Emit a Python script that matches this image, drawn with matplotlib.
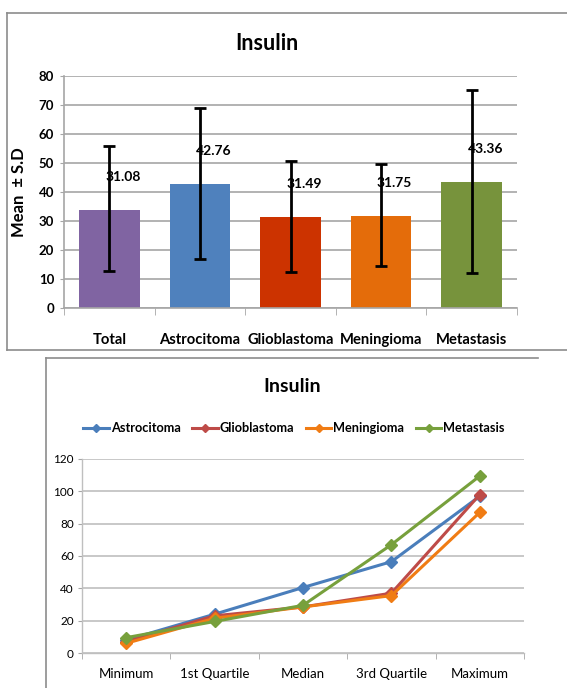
import matplotlib.pyplot as plt
from matplotlib.lines import Line2D

plt.rcParams["font.family"] = ["Lato", "DejaVu Sans"]

# top panel: mean +/- SD
GROUPS = ["Total", "Astrocitoma", "Glioblastoma", "Meningioma", "Metastasis"]
MEANS = [33.8, 42.8, 31.4, 31.7, 43.4]
MEAN_LABELS = ["31.08", "42.76", "31.49", "31.75", "43.36"]
ERR_LOW = [12.9, 17.0, 12.4, 14.5, 12.0]
ERR_HIGH = [55.8, 69.0, 50.7, 49.5, 75.2]
BAR_COLORS = ["#8064A2", "#4F81BD", "#CC3300", "#E46C0A", "#77933C"]

# bottom panel: quartiles
STATS = ["Minimum", "1st Quartile", "Median", "3rd Quartile", "Maximum"]
SERIES = ["Astrocitoma", "Glioblastoma", "Meningioma", "Metastasis"]
ASTRO = [8.0, 24.0, 40.5, 56.5, 97.0]
GLIO = [7.0, 23.0, 28.5, 37.0, 98.0]
MENIN = [6.0, 21.5, 28.5, 35.5, 87.0]
METAS = [9.5, 19.5, 29.5, 67.0, 109.5]
LINE_COLORS = ["#4A7EBB", "#BE4B48", "#F07C14", "#77A03C"]

W, H = 567, 688
GRID = "#a6a6a6"


def fx(px):
    return px / W


def fy(py):
    return 1 - py / H


fig = plt.figure(figsize=(W / 100, H / 100), dpi=100)

# chart frames
frame = dict(color="#8c8c8c", linewidth=1.2, transform=fig.transFigure)
fig.add_artist(Line2D([fx(7), fx(7)], [fy(13), fy(350)], **frame))
fig.add_artist(Line2D([fx(7), fx(567)], [fy(13), fy(13)], **frame))
fig.add_artist(Line2D([fx(7), fx(567)], [fy(350), fy(350)], **frame))
fig.add_artist(Line2D([fx(46), fx(46)], [fy(358), fy(688)], **frame))
fig.add_artist(Line2D([fx(46), fx(538)], [fy(358), fy(358)], **frame))

# ---- top: bar chart
ax = fig.add_axes([fx(64), fy(308), fx(517 - 64), fy(76) - fy(308)])
x = list(range(len(GROUPS)))
ax.bar(x, MEANS, width=0.67, color=BAR_COLORS, zorder=2)
yerr = [[m - lo for m, lo in zip(MEANS, ERR_LOW)], [hi - m for m, hi in zip(MEANS, ERR_HIGH)]]
ax.errorbar(x, MEANS, yerr=yerr, fmt="none", ecolor="black", elinewidth=2,
            capsize=4, capthick=2, zorder=3)
for xi, m, lab in zip(x, MEANS, MEAN_LABELS):
    ax.annotate(lab, (xi, m + 11.5), xytext=(-3, 0), textcoords="offset points",
                ha="left", va="center", fontsize=10, fontweight="bold", zorder=4)

ax.set_xlim(-0.5, len(GROUPS) - 0.5)
ax.set_ylim(0, 80)
ax.set_yticks(range(0, 81, 10))
ax.set_xticks(x)
ax.set_xticklabels(GROUPS, fontsize=10.6, fontweight="bold")
ax.set_xticks([i - 0.5 for i in range(len(GROUPS) + 1)], minor=True)
ax.tick_params(axis="x", which="major", length=0, pad=18)
ax.tick_params(axis="x", which="minor", length=5, color=GRID, direction="out")
ax.tick_params(axis="y", length=3, color=GRID, labelsize=9.5, pad=4)
for t in ax.get_yticklabels():
    t.set_fontweight("bold")
ax.grid(axis="y", color=GRID, linewidth=1.2, zorder=0)
ax.set_axisbelow(True)
ax.spines[["top", "right"]].set_visible(False)
ax.spines[["left", "bottom"]].set_color(GRID)
ax.spines[["left", "bottom"]].set_linewidth(1.2)
ax.set_ylabel("Mean  \u00b1 S.D", fontsize=12, fontweight="bold")
ax.yaxis.set_label_coords(-0.082, 0.5)
fig.text(fx(267), fy(44), "Insulin", ha="center", va="center", fontsize=15.5, fontweight="bold")

# ---- bottom: line chart
ax2 = fig.add_axes([fx(82), fy(653), fx(524 - 82), fy(459) - fy(653)])
for name, vals, col in zip(SERIES, [ASTRO, GLIO, MENIN, METAS], LINE_COLORS):
    ax2.plot(range(len(STATS)), vals, color=col, linewidth=2.2, marker="D",
             markersize=6.5, label=name, zorder=3)

ax2.set_xlim(-0.5, len(STATS) - 0.5)
ax2.set_ylim(0, 120)
ax2.set_yticks(range(0, 121, 20))
ax2.set_xticks(range(len(STATS)))
ax2.set_xticklabels(STATS, fontsize=9.5)
ax2.set_xticks([i - 0.5 for i in range(len(STATS) + 1)], minor=True)
ax2.tick_params(axis="x", which="major", length=0, pad=11)
ax2.tick_params(axis="x", which="minor", length=4, color=GRID, direction="out")
ax2.tick_params(axis="y", length=3, color=GRID, labelsize=8.5, pad=3)
ax2.grid(axis="y", color="#bfbfbf", linewidth=1.2, zorder=0)
ax2.set_axisbelow(True)
ax2.spines[["top", "right"]].set_visible(False)
ax2.spines[["left", "bottom"]].set_color("#bfbfbf")
ax2.spines[["left", "bottom"]].set_linewidth(1.0)
fig.text(fx(292), fy(387), "Insulin", ha="center", va="center", fontsize=14, fontweight="bold")
fig.legend(*ax2.get_legend_handles_labels(), loc="center", bbox_to_anchor=(fx(294), fy(428)),
           ncol=4, frameon=False, handlelength=2.0, handletextpad=0.15,
           columnspacing=0.9, markerscale=0.7, prop={"weight": "bold", "size": 9.2})

fig.savefig("out.png", dpi=100)
